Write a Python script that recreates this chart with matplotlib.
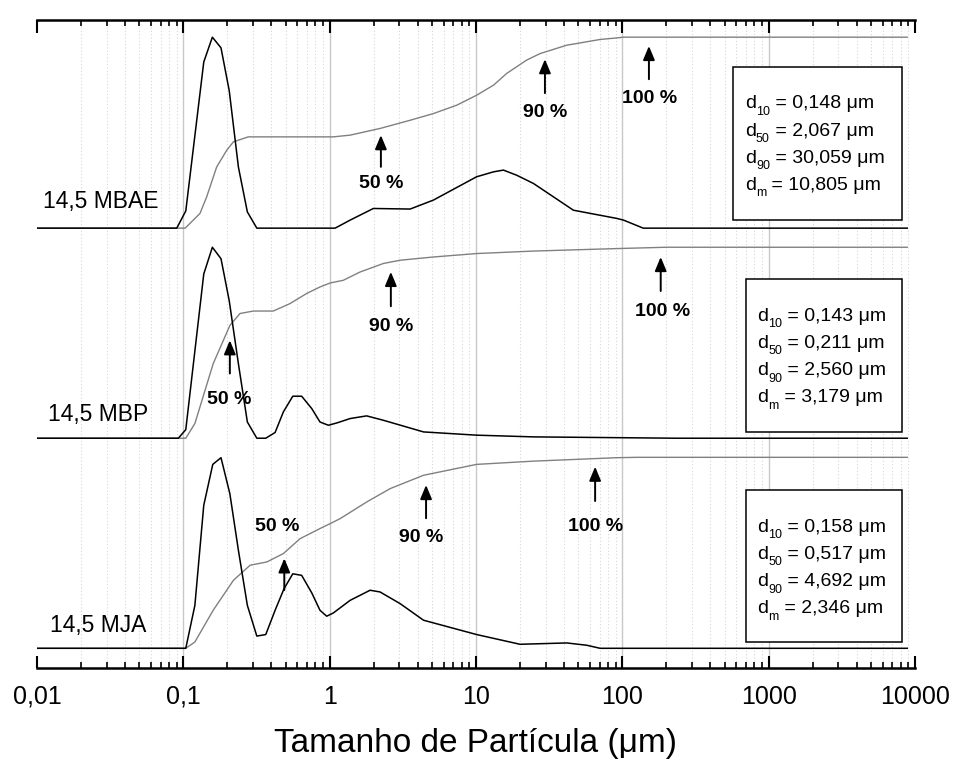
import matplotlib
matplotlib.use('Agg')
import matplotlib.pyplot as plt
from matplotlib.ticker import FixedLocator, LogLocator, NullFormatter
from matplotlib.patches import Rectangle
from matplotlib.transforms import ScaledTranslation

#Fonts: Arial look-alike
plt.rcParams['font.family'] = 'Liberation Sans'

#Sample names
samples = ['14,5 MBAE', '14,5 MBP', '14,5 MJA']

#14,5 MBAE - frequency curve (um, % of peak) and cumulative curve (um, %)
mbae_size = [0.01, 0.0902, 0.104, 0.138, 0.158, 0.181, 0.206, 0.238, 0.274, 0.318, 1.09, 1.38, 1.99,
             3.55, 5.12, 10.1, 13.2, 15.4, 19.0, 24.7, 46.3, 91.6, 102, 139, 8850]
mbae_freq = [0, 0, 9, 87, 100, 94.4, 72, 32, 8.5, 0, 0, 4.2, 10.3,
             10, 14.7, 26.9, 29.5, 30.4, 27.7, 23.4, 9.4, 5.1, 4.2, 0, 0]
mbae_cum_size = [0.01, 0.103, 0.130, 0.1445, 0.169, 0.198, 0.220, 0.278, 1.06, 1.38, 2.21, 3.55,
                 5.12, 7.4, 10.1, 13.2, 16.2, 22.2, 27.4, 41.7, 48.9, 70.5, 91.6, 102, 8850]
mbae_cum = [0, 0, 7.7, 16.4, 32, 40.8, 45.2, 47.8, 47.8, 48.7, 52.2, 56.5,
            60, 64.4, 69.6, 74.9, 81, 88, 91.4, 95.8, 96.7, 98.8, 99.6, 100, 100]

#14,5 MBP
mbp_size = [0.01, 0.0925, 0.104, 0.138, 0.158, 0.181, 0.206, 0.238, 0.274, 0.318, 0.366, 0.424,
            0.483, 0.56, 0.644, 0.755, 0.859, 0.98, 1.12, 1.38, 1.79, 2.33, 4.38, 10.1, 24.7, 235, 8850]
mbp_freq = [0, 0, 4.5, 86, 100, 94, 72, 39, 8.5, 0, 0, 3,
            13.8, 22, 22, 15.5, 8.5, 6.8, 8, 10.3, 11.7, 9.4, 3.3, 1.6, 0.7, 0, 0]
mbp_cum_size = [0.01, 0.104, 0.120, 0.160, 0.208, 0.244, 0.301, 0.412, 0.536, 0.697, 0.859, 1.01,
                1.24, 1.61, 2.33, 3.03, 5.12, 10.1, 24.7, 91.6, 200, 8850]
mbp_cum = [0, 0, 7.7, 39, 59, 65.3, 66.6, 66.6, 70.5, 75.8, 79.2, 81.3,
           82.7, 87, 91.5, 93.2, 94.9, 96.7, 98, 99.3, 100, 100]

#14,5 MJA
mja_size = [0.01, 0.104, 0.120, 0.138, 0.159, 0.181, 0.208, 0.238, 0.274, 0.318, 0.366, 0.424,
            0.488, 0.56, 0.644, 0.755, 0.859, 0.955, 1.06, 1.38, 1.89, 2.21, 3.03, 4.38, 10.1,
            20.0, 41.7, 57.1, 70.5, 8850]
mja_freq = [0, 0, 22.5, 74.9, 96.3, 99.8, 81, 51.3, 22.5, 6.4, 7.2, 19.9,
            31.2, 39, 38.2, 29, 19.9, 16.8, 18.5, 25.1, 30.4, 29.5, 23.4, 14.7, 7.2,
            2.1, 2.8, 1.6, 0, 0]
mja_cum_size = [0.01, 0.104, 0.120, 0.160, 0.220, 0.286, 0.372, 0.483, 0.628, 0.859, 1.01,
                1.18, 1.79, 2.59, 4.38, 10.1, 24.7, 91.6, 126, 8850]
mja_cum = [0, 0, 3.3, 19.9, 35.6, 43.5, 45.2, 49.6, 57.4, 62.7, 65.3,
           67.9, 76.6, 83.6, 90.6, 96.3, 98, 99.8, 100, 100]

#Characteristic diameters shown in the boxes
d10 = ['0,148', '0,143', '0,158']
d50 = ['2,067', '0,211', '0,517']
d90 = ['30,059', '2,560', '4,692']
dm = ['10,805', '3,179', '2,346']

#Arrows: (label, x of arrow, tail y, tip y, label x, label y) in panel units
mbae_arrows = [('50 %', 2.24, 32.1, 48.7, 2.24, 23.6),
               ('90 %', 29.6, 70.7, 88.5, 29.6, 60.7),
               ('100 %', 152, 78, 95.4, 154, 68)]
mbp_arrows = [('50 %', 0.208, 33.9, 51.3, 0.206, 20.3),
              ('90 %', 2.62, 69.1, 87.1, 2.62, 58.6),
              ('100 %', 183, 77.1, 94.9, 189, 66.1)]
mja_arrows = [('50 %', 0.49, 30.5, 47.1, 0.44, 64),
              ('90 %', 4.56, 68.1, 85.5, 4.2, 58.1),
              ('100 %', 65.2, 77.1, 95.1, 65.2, 64)]

#Vertical offset of each panel
offsets = [220, 110, 0]

#Initiates the figure (955 x 760 px)
fig = plt.figure(figsize=(9.55, 7.6), dpi=100)
ax = fig.add_axes([0.0387, 0.1211, 0.9194, 0.8526])
ax.set_xscale('log')
ax.set_xlim(0.01, 10000)
ax.set_ylim(-10.3, 329)
renderer = fig.canvas.get_renderer()

#Grid lines behind the curves
ax.set_axisbelow(True)
ax.grid(which='major', axis='x', color='#c8c8c8', lw=1.0)
ax.grid(which='minor', axis='x', color='#d6d6d6', lw=0.8, ls=(0, (1, 2)))

curves = [(mbae_size, mbae_freq, mbae_cum_size, mbae_cum),
          (mbp_size, mbp_freq, mbp_cum_size, mbp_cum),
          (mja_size, mja_freq, mja_cum_size, mja_cum)]
arrows = [mbae_arrows, mbp_arrows, mja_arrows]

#Label positions (x in um, y above baseline) and box corners (axes fraction)
name_pos = [(0.0110, 10.5), (0.01194, 9.1), (0.01227, 8.7)]
boxes = [(0.793, 0.691, 0.9855, 0.928), (0.808, 0.364, 0.9855, 0.600), (0.808, 0.040, 0.9855, 0.275)]
text_x = [0.8064, 0.8204, 0.8204]
text_y = [0.8637, 0.5360, 0.2103]


#Writes "d" + lowered subscript + " = value um" as three pieces of text
def d_line(x, y, sub, value):
    t1 = ax.text(x, y, 'd', transform=ax.transAxes, fontsize=14, ha='left', va='baseline', zorder=7)
    w1 = t1.get_window_extent(renderer).width
    tr2 = ax.transAxes + ScaledTranslation(w1 / fig.dpi, -6.5 / fig.dpi, fig.dpi_scale_trans)
    t2 = ax.text(x, y, sub, transform=tr2, fontsize=9, ha='left', va='baseline', zorder=7)
    w2 = t2.get_window_extent(renderer).width
    tr3 = ax.transAxes + ScaledTranslation((w1 + w2) / fig.dpi, 0, fig.dpi_scale_trans)
    ax.text(x, y, ' = ' + value + ' μm', transform=tr3, fontsize=14, ha='left', va='baseline', zorder=7)


for i in range(3):
    size, freq, cum_size, cum = curves[i]
    off = offsets[i]
    #Cumulative curve in gray, frequency curve in black
    ax.plot(cum_size, [v + off for v in cum], color='#808080', lw=1.0, zorder=3)
    ax.plot(size, [v + off for v in freq], color='black', lw=1.1, zorder=4)
    #Sample name
    ax.text(name_pos[i][0], name_pos[i][1] + off, samples[i], fontsize=16.5,
            ha='left', va='baseline', zorder=5)
    #Arrows with percent labels
    for lab, xa, yt, yh, xl, yl in arrows[i]:
        ax.annotate('', xy=(xa, yh + off), xytext=(xa, yt + off),
                    arrowprops=dict(arrowstyle='-|>,head_length=0.6,head_width=0.25',
                                    color='black', lw=1.4, shrinkA=0, shrinkB=0,
                                    mutation_scale=14), zorder=5)
        ax.text(xl, yl + off, lab, fontsize=14, fontweight='bold',
                ha='center', va='center', zorder=5)
    #Box with the diameters
    x0, y0, x1, y1 = boxes[i]
    ax.add_patch(Rectangle((x0, y0), x1 - x0, y1 - y0, transform=ax.transAxes,
                           facecolor='white', edgecolor='black', lw=1.1, zorder=6))
    d_line(text_x[i], text_y[i], '10', d10[i])
    d_line(text_x[i], text_y[i] - 0.042, '50', d50[i])
    d_line(text_x[i], text_y[i] - 0.084, '90', d90[i])
    d_line(text_x[i], text_y[i] - 0.126, 'm', dm[i])

#Ticks: decades with labels, minor ticks inside on top and bottom
ax.xaxis.set_major_locator(FixedLocator([0.01, 0.1, 1, 10, 100, 1000, 10000]))
ax.set_xticklabels(['0,01', '0,1', '1', '10', '100', '1000', '10000'])
ax.xaxis.set_minor_locator(LogLocator(base=10, subs=range(2, 10), numticks=20))
ax.xaxis.set_minor_formatter(NullFormatter())
ax.tick_params(axis='x', which='both', direction='in', top=True, bottom=True, labelsize=18, pad=12)
ax.tick_params(axis='x', which='major', length=9, width=1.5)
ax.tick_params(axis='x', which='minor', length=4.5, width=1.2)
ax.set_yticks([])

#No grid line on the two edge decades
major_ticks = ax.xaxis.get_major_ticks()
major_ticks[0].gridline.set_visible(False)
major_ticks[-1].gridline.set_visible(False)

#Only top and bottom frame lines
ax.spines['left'].set_visible(False)
ax.spines['right'].set_visible(False)
ax.spines['top'].set_linewidth(1.8)
ax.spines['bottom'].set_linewidth(1.8)

#Sets x-axis title
ax.set_xlabel('Tamanho de Partícula (μm)', fontsize=24, labelpad=14)

#Saves the figure
fig.savefig('out.png', dpi=100)
